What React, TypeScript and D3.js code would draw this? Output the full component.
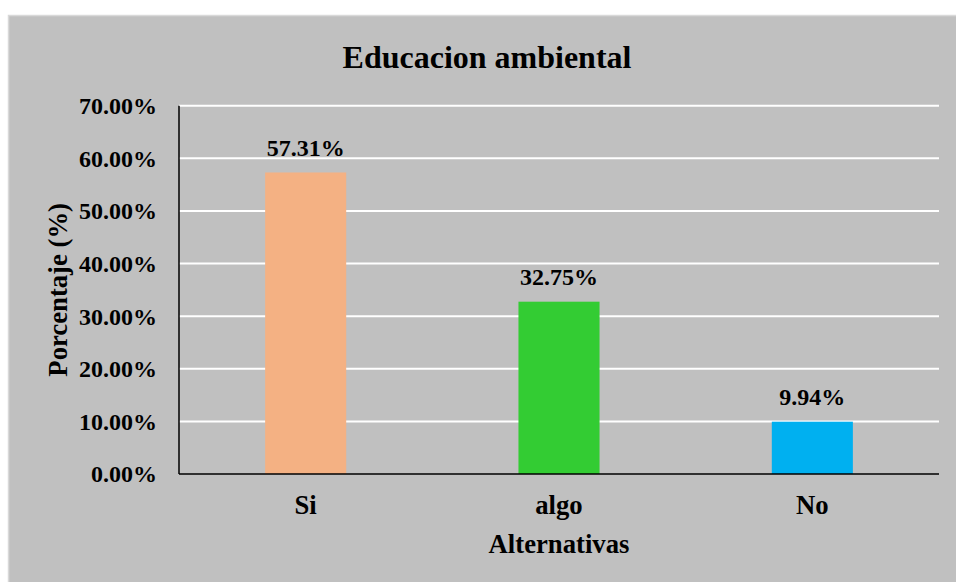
import React from "react";
import * as d3 from "d3";

const categories = ["Si", "algo", "No"];
const values = [57.31, 32.75, 9.94];
const barColors = ["#F4B183", "#33CC33", "#00B0F0"];
const yTicks = [0, 10, 20, 30, 40, 50, 60, 70];
const chartTitle = "Educacion ambiental";
const xTitle = "Alternativas";
const yTitle = "Porcentaje (%)";

const W = 956;
const H = 582;
const plot = { left: 179, right: 939, top: 105.7, bottom: 474 };
const font = "'Liberation Serif', 'Times New Roman', serif";

export default function App() {
  const x = d3.scaleBand<string>().domain(categories).range([plot.left, plot.right]).padding(0);
  const y = d3.scaleLinear().domain([0, 70]).range([plot.bottom, plot.top]);
  const barW = x.bandwidth() * 0.32;
  const fmt = (v: number) => v.toFixed(2) + "%";

  return (
    <div style={{ position: "fixed", left: 0, top: 0 }}>
      <svg width={W} height={H} style={{ display: "block" }}>
        <rect x={0} y={0} width={W} height={H} fill="#ffffff" />
        <rect x={8.5} y={15.5} width={W} height={H} fill="#C0C0C0" stroke="#D9D9D9" strokeWidth={1.5} />

        <text x={487} y={68} textAnchor="middle" fontFamily={font} fontWeight="bold" fontSize={32} fill="#000">
          {chartTitle}
        </text>

        {yTicks.map((t) => (
          <g key={t}>
            {t > 0 && (
              <line x1={plot.left} x2={plot.right} y1={y(t)} y2={y(t)} stroke="#ffffff" strokeWidth={2} />
            )}
            <text
              x={157}
              y={y(t)}
              dy="0.35em"
              textAnchor="end"
              fontFamily={font}
              fontWeight="bold"
              fontSize={24}
              fill="#000"
            >
              {fmt(t)}
            </text>
          </g>
        ))}

        {categories.map((c, i) => {
          const cx = (x(c) as number) + x.bandwidth() / 2;
          const v = values[i];
          return (
            <g key={c}>
              <rect x={cx - barW / 2} y={y(v)} width={barW} height={y(0) - y(v)} fill={barColors[i]} />
              <text
                x={cx}
                y={y(v) - 16.5}
                textAnchor="middle"
                fontFamily={font}
                fontWeight="bold"
                fontSize={24}
                fill="#000"
              >
                {fmt(v)}
              </text>
              <text
                x={cx}
                y={514}
                textAnchor="middle"
                fontFamily={font}
                fontWeight="bold"
                fontSize={26.7}
                fill="#000"
              >
                {c}
              </text>
            </g>
          );
        })}

        <line x1={plot.left} x2={plot.left} y1={plot.top} y2={plot.bottom} stroke="#000" strokeWidth={1.5} />
        <line x1={plot.left} x2={plot.right} y1={plot.bottom} y2={plot.bottom} stroke="#000" strokeWidth={1.5} />

        <text
          x={(plot.left + plot.right) / 2}
          y={553}
          textAnchor="middle"
          fontFamily={font}
          fontWeight="bold"
          fontSize={26.7}
          fill="#000"
        >
          {xTitle}
        </text>
        <text
          transform={`translate(67, ${(plot.top + plot.bottom) / 2}) rotate(-90)`}
          textAnchor="middle"
          fontFamily={font}
          fontWeight="bold"
          fontSize={26.7}
          fill="#000"
        >
          {yTitle}
        </text>
      </svg>
    </div>
  );
}
